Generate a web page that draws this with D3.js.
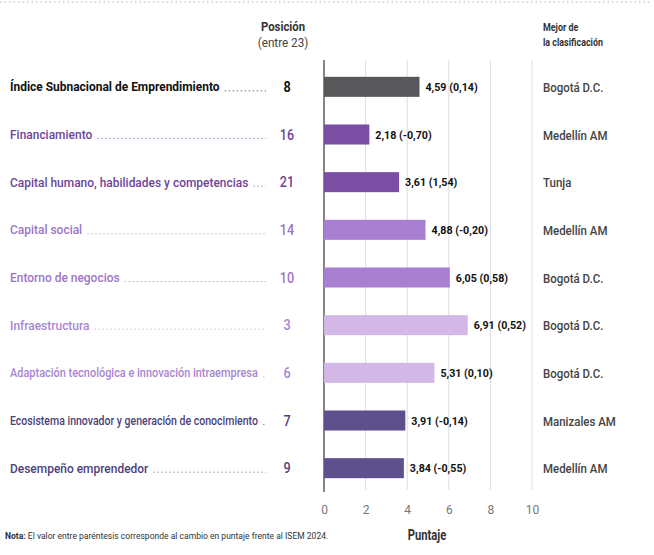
<!DOCTYPE html>
<html lang="es">
<head>
    <meta charset="UTF-8">
    <title>ISEM</title>
    <script src="https://d3js.org/d3.v7.min.js"></script>
<style>
    body { margin: 0; background: #fff; }
    text { font-family: Roboto, "Noto Sans", sans-serif; }
</style>
</head>
<body>
    <svg id="canvas" width="654" height="555"></svg>

    <script>
        // datos
        var pilares = ["Índice Subnacional de Emprendimiento", "Financiamiento",
            "Capital humano, habilidades y competencias", "Capital social", "Entorno de negocios",
            "Infraestructura", "Adaptación tecnológica e innovación intraempresa",
            "Ecosistema innovador y generación de conocimiento", "Desempeño emprendedor"];
        var posicion = [8, 16, 21, 14, 10, 3, 6, 7, 9];
        var puntaje = [4.59, 2.18, 3.61, 4.88, 6.05, 6.91, 5.31, 3.91, 3.84];
        var cambio = ["0,14", "-0,70", "1,54", "-0,20", "0,58", "0,52", "0,10", "-0,14", "-0,55"];
        var mejor = ["Bogotá D.C.", "Medellín AM", "Tunja", "Medellín AM", "Bogotá D.C.",
            "Bogotá D.C.", "Bogotá D.C.", "Manizales AM", "Medellín AM"];
        var ticks = [0, 2, 4, 6, 8, 10];

        var barColor = ["#58585a", "#7a4ea3", "#7a4ea3", "#a97fd2", "#a97fd2", "#d3b7e7", "#d3b7e7", "#5e4f8d", "#5e4f8d"];
        var txtColor = ["#111111", "#6e449a", "#6e449a", "#9c76c6", "#9c76c6", "#a886d2", "#a886d2", "#4d3f7c", "#4d3f7c"];

        // estrecha el texto con una escala horizontal (la fuente original es condensada)
        function condense(sel, f, maxW) {
            sel.each(function() {
                var t = d3.select(this);
                var w = this.getComputedTextLength();
                var s = f;
                if (maxW && w * s > maxW) s = maxW / w;
                var tx = +t.attr("x"), ty = +t.attr("y");
                t.attr("x", 0).attr("y", 0)
                    .attr("transform", "translate(" + tx + "," + ty + ") scale(" + s + ",1)");
                this.__ancho = w * s;
            });
        }

        var svg = d3.select("svg");

        var x = d3.scaleLinear().domain([0, 10]).range([324, 532]);
        var y = d3.scaleBand().domain(d3.range(pilares.length)).range([63, 492]).paddingInner(0.58).paddingOuter(0.29);

        // linea punteada arriba
        svg.append("line").attr("x1", 0).attr("x2", 650).attr("y1", 2).attr("y2", 2)
            .attr("stroke", "#b5b5b5").attr("stroke-width", 1).attr("stroke-dasharray", "1.5,3");

        // rejilla
        svg.selectAll(".grid").data(ticks.slice(1)).enter().append("line")
            .attr("x1", d => x(d)).attr("x2", d => x(d)).attr("y1", 60).attr("y2", 490)
            .attr("stroke", "#dedede").attr("stroke-width", 1);
        svg.append("line").attr("x1", x(0)).attr("x2", x(0)).attr("y1", 60).attr("y2", 492)
            .attr("stroke", "#444").attr("stroke-width", 1.3);

        // eje x
        var xAxis = svg.append("g").attr("transform", "translate(0,502)")
            .call(d3.axisBottom(x).tickValues(ticks).tickSize(0).tickPadding(3).tickFormat(d3.format("d")));
        xAxis.select(".domain").remove();
        xAxis.selectAll("text").attr("fill", "#777").style("font-size", "12px").style("font-family", "Roboto");

        svg.append("text").attr("x", 427).attr("y", 540).attr("text-anchor", "middle")
            .attr("fill", "#333").style("font-size", "14px").style("font-weight", "bold").text("Puntaje")
            .call(condense, 0.8);

        // encabezados
        svg.append("text").attr("x", 283).attr("y", 31).attr("text-anchor", "middle")
            .attr("fill", "#333").style("font-size", "13px").style("font-weight", "bold").text("Posición")
            .call(condense, 0.87);
        svg.append("text").attr("x", 283).attr("y", 47).attr("text-anchor", "middle")
            .attr("fill", "#444").style("font-size", "13px").text("(entre 23)")
            .call(condense, 0.9);
        svg.append("text").attr("x", 543).attr("y", 31).attr("fill", "#333")
            .style("font-size", "10.5px").style("font-weight", "bold").text("Mejor de")
            .call(condense, 0.85);
        svg.append("text").attr("x", 543).attr("y", 46).attr("fill", "#333")
            .style("font-size", "10.5px").style("font-weight", "bold").text("la clasificación")
            .call(condense, 0.85);

        var row = svg.selectAll(".row").data(pilares).enter().append("g").attr("class", "row");

        row.append("rect")
            .attr("x", x(0)).attr("y", (d, i) => y(i))
            .attr("width", (d, i) => x(puntaje[i]) - x(0)).attr("height", y.bandwidth())
            .attr("fill", (d, i) => barColor[i]);

        row.append("text")
            .attr("x", (d, i) => x(puntaje[i]) + 6).attr("y", (d, i) => y(i) + y.bandwidth() / 2 + 4)
            .attr("fill", "#111").style("font-size", "11.5px").style("font-weight", "bold")
            .text((d, i) => d3.format(".2f")(puntaje[i]).replace(".", ",") + " (" + cambio[i] + ")")
            .call(condense, 0.93);

        var labels = row.append("text")
            .attr("x", 10).attr("y", (d, i) => y(i) + y.bandwidth() / 2 + 4.5)
            .attr("fill", (d, i) => txtColor[i]).style("font-size", "13px")
            .style("font-weight", (d, i) => i == 0 ? "bold" : "500")
            .text(d => d)
            .call(condense, 0.92, 248);

        labels.each(function(d, i) {
            var cy = y(i) + y.bandwidth() / 2 + 4;
            var x1 = 10 + this.__ancho + 5;
            if (x1 < 266) {
                svg.append("line").attr("x1", x1).attr("x2", 266).attr("y1", cy).attr("y2", cy)
                    .attr("stroke", txtColor[i]).attr("stroke-opacity", 0.6)
                    .attr("stroke-width", 1).attr("stroke-dasharray", "1.5,2.5");
            }
        });

        row.append("text")
            .attr("x", 287).attr("y", (d, i) => y(i) + y.bandwidth() / 2 + 5)
            .attr("text-anchor", "middle")
            .attr("fill", (d, i) => txtColor[i]).style("font-size", "14px")
            .style("font-weight", (d, i) => i == 0 ? "bold" : "500")
            .text((d, i) => posicion[i])
            .call(condense, 0.9);

        row.append("text")
            .attr("x", 543).attr("y", (d, i) => y(i) + y.bandwidth() / 2 + 5)
            .attr("fill", "#444").style("font-size", "13.5px").style("font-weight", "500")
            .text((d, i) => mejor[i])
            .call(condense, 0.85);

        // nota
        var nota = svg.append("text").attr("x", 5).attr("y", 539).attr("fill", "#333").style("font-size", "9px");
        nota.append("tspan").style("font-weight", "bold").text("Nota:");
        nota.append("tspan").text(" El valor entre paréntesis corresponde al cambio en puntaje frente al ISEM 2024.");
        condense(nota, 0.95, 340);
    </script>
</body>
</html>
